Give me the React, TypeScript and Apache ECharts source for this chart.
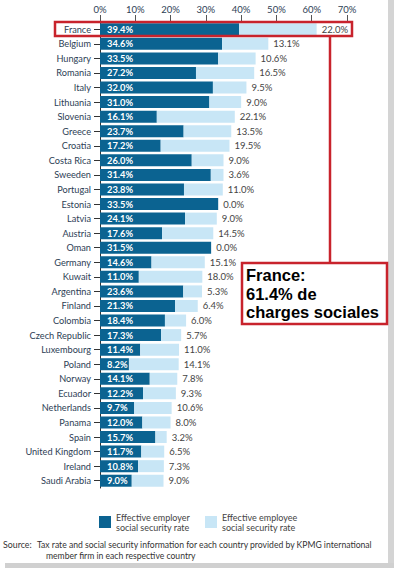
import React, { useEffect, useRef } from "react";
import * as echarts from "echarts";

const countries = [
  "France", "Belgium", "Hungary", "Romania", "Italy", "Lithuania", "Slovenia", "Greece",
  "Croatia", "Costa Rica", "Sweeden", "Portugal", "Estonia", "Latvia", "Austria", "Oman",
  "Germany", "Kuwait", "Argentina", "Finland", "Colombia", "Czech Republic", "Luxembourg",
  "Poland", "Norway", "Ecuador", "Netherlands", "Panama", "Spain", "United Kingdom",
  "Ireland", "Saudi Arabia",
];
const employerRate = [
  39.4, 34.6, 33.5, 27.2, 32.0, 31.0, 16.1, 23.7, 17.2, 26.0, 31.4, 23.8, 33.5, 24.1, 17.6, 31.5,
  14.6, 11.0, 23.6, 21.3, 18.4, 17.3, 11.4, 8.2, 14.1, 12.2, 9.7, 12.0, 15.7, 11.7, 10.8, 9.0,
];
const employeeRate = [
  22.0, 13.1, 10.6, 16.5, 9.5, 9.0, 22.1, 13.5, 19.5, 9.0, 3.6, 11.0, 0.0, 9.0, 14.5, 0.0,
  15.1, 18.0, 5.3, 6.4, 6.0, 5.7, 11.0, 14.1, 7.8, 9.3, 10.6, 8.0, 3.2, 6.5, 7.3, 9.0,
];
const seriesNames = ["Effective employer\nsocial security rate", "Effective employee\nsocial security rate"];

const FONT = "Lato, 'Open Sans', sans-serif";
const DARK = "#0b6391";
const LIGHT = "#c8e6f6";
const RED = "#c8232c";

export default function App() {
  const ref = useRef<HTMLDivElement>(null);
  useEffect(() => {
    document.body.style.margin = "0";
    const chart = echarts.init(ref.current!, null, { renderer: "svg" });
    chart.setOption({
      animation: false,
      backgroundColor: "#ffffff",
      grid: { left: 100, right: 50, top: 22, height: 466, containLabel: false },
      xAxis: {
        type: "value",
        position: "top",
        min: 0,
        max: 70,
        interval: 10,
        axisLine: { show: false },
        axisTick: { show: true, length: 7, lineStyle: { color: "#555" } },
        splitLine: { show: false },
        axisLabel: {
          formatter: "{value}%",
          color: "#2d3e55",
          fontFamily: FONT,
          fontSize: 9.5,
          margin: 8,
        },
      },
      yAxis: {
        type: "category",
        inverse: true,
        data: countries,
        axisLine: { show: true, lineStyle: { color: "#333", width: 1 } },
        axisTick: { show: true, length: 6, alignWithLabel: true, lineStyle: { color: "#333" } },
        axisLabel: { color: "#2d3e55", fontFamily: FONT, fontSize: 9.2, margin: 9 },
      },
      legend: [
        {
          data: [seriesNames[0]],
          left: 94,
          top: 507,
          itemWidth: 12,
          itemHeight: 12,
          icon: "rect",
          itemGap: 5,
          textStyle: { fontFamily: FONT, fontSize: 9, color: "#444", lineHeight: 10 },
        },
        {
          data: [seriesNames[1]],
          left: 200,
          top: 507,
          itemWidth: 12,
          itemHeight: 12,
          icon: "rect",
          textStyle: { fontFamily: FONT, fontSize: 9, color: "#444", lineHeight: 10 },
        },
      ],
      series: [
        {
          name: seriesNames[0],
          type: "bar",
          stack: "total",
          barWidth: 12,
          data: employerRate,
          itemStyle: { color: DARK },
          label: {
            show: true,
            position: "insideLeft",
            distance: 7,
            formatter: (p: any) => p.value.toFixed(1) + "%",
            color: "#ffffff",
            fontWeight: "bold",
            fontFamily: FONT,
            fontSize: 9.3,
          },
        },
        {
          name: seriesNames[1],
          type: "bar",
          stack: "total",
          barWidth: 12,
          data: employeeRate,
          itemStyle: { color: LIGHT },
          label: {
            show: true,
            position: "right",
            distance: 5,
            formatter: (p: any) => p.value.toFixed(1) + "%",
            color: "#444",
            fontFamily: FONT,
            fontSize: 9.5,
          },
        },
      ],
      graphic: [
        { type: "rect", shape: { x: 388, y: 0, width: 6, height: 565 }, style: { fill: "#d4d4d4" }, silent: true },
        { type: "rect", shape: { x: 5, y: 563, width: 389, height: 5 }, style: { fill: "#d0d0d0" }, silent: true },
        { type: "rect", shape: { x: 55, y: 22, width: 297, height: 14 }, style: { fill: "none", stroke: RED, lineWidth: 2.5 }, z: 100 },
        { type: "line", shape: { x1: 330, y1: 36, x2: 330, y2: 263 }, style: { stroke: RED, lineWidth: 2.5 }, z: 100 },
        { type: "rect", shape: { x: 242, y: 263, width: 145, height: 61 }, style: { fill: "#ffffff", stroke: RED, lineWidth: 2.5 }, z: 100 },
        {
          type: "text",
          x: 246,
          y: 266,
          z: 101,
          style: {
            text: "France:\n61.4% de\ncharges sociales",
            font: "bold 16.5px 'Liberation Sans', Arial, sans-serif",
            lineHeight: 18.5,
            fill: "#000",
          },
        },
        {
          type: "text",
          x: 3,
          y: 540,
          style: { text: "Source:", font: "8.8px Lato, sans-serif", fill: "#333" },
        },
        {
          type: "text",
          x: 37,
          y: 540,
          style: {
            text: "Tax rate and social security information for each country provided by KPMG international",
            font: "8.6px Lato, sans-serif",
            fill: "#333",
          },
        },
        {
          type: "text",
          x: 46,
          y: 551,
          style: {
            text: "member firm in each respective country",
            font: "8.6px Lato, sans-serif",
            fill: "#333",
          },
        },
      ],
    });
    return () => chart.dispose();
  }, []);
  return <div ref={ref} style={{ width: 397, height: 571 }} />;
}
